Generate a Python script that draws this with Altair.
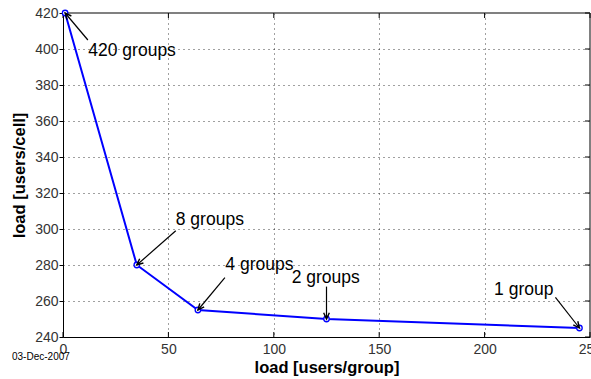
import math
import altair as alt
import pandas as pd

# Measured load per cell vs. load per group
groups = ["420 groups", "8 groups", "4 groups", "2 groups", "1 group"]
users_per_group = [1, 35, 64, 125, 245]
users_per_cell = [420, 280, 255, 250, 245]

# Annotation text anchors (arrow tails) in data units
label_x = [11.8, 53.5, 76.8, 125, 233.6]
label_y = [405, 299, 273, 268, 262]
text_x = [12, 53.5, 77, 108.5, 204.5]
text_y = [399, 305, 280, 273, 266]

x_ticks = [0, 50, 100, 150, 200, 250]
y_ticks = [240, 260, 280, 300, 320, 340, 360, 380, 400, 420]

W, H = 527, 324
X_DOM, Y_DOM = [0, 250], [240, 420]
FONT = "Liberation Sans"

sx = W / (X_DOM[1] - X_DOM[0])
sy = H / (Y_DOM[1] - Y_DOM[0])

# Arrowhead rotation from the screen direction tail -> head
angles = []
for xt, yt, xh, yh in zip(label_x, label_y, users_per_group, users_per_cell):
    dx = (xh - xt) * sx
    dy = -(yh - yt) * sy
    angles.append(math.degrees(math.atan2(dx, -dy)) % 360)

pts = pd.DataFrame({"x": users_per_group, "y": users_per_cell})
ann = pd.DataFrame({
    "label": groups, "tx": label_x, "ty": label_y,
    "hx": users_per_group, "hy": users_per_cell,
    "lx": text_x, "ly": text_y, "angle": angles,
})

xs = alt.Scale(domain=X_DOM, nice=False, zero=False)
ys = alt.Scale(domain=Y_DOM, nice=False, zero=False)

grid_style = dict(grid=True, gridDash=[1, 4], gridColor="#000000", gridOpacity=0.75,
                  domainColor="#000000", labelFontSize=14, labelColor="#333333",
                  titleFontSize=16.5, titleFontWeight="bold", titleColor="#000000",
                  labelFont=FONT, titleFont=FONT, labelFlush=False,
                  labelOverlap=False)

AX = alt.Axis(values=x_ticks, title="load [users/group]",
              tickSize=0, labelPadding=5, titlePadding=3, **grid_style)
AY = alt.Axis(values=y_ticks, title="load [users/cell]",
              tickSize=4, tickColor="#000000", labelPadding=1, titlePadding=7,
              **grid_style)


def qx(field):
    return alt.X(field, type="quantitative", scale=xs, axis=AX)


def qy(field):
    return alt.Y(field, type="quantitative", scale=ys, axis=AY)


base = alt.Chart(pts)

line = base.mark_line(color="#0000ff", strokeWidth=2).encode(x=qx("x"), y=qy("y"))

markers = base.mark_point(shape="circle", size=30, filled=True, fill="white",
                          stroke="#0000ff", strokeWidth=1.3, opacity=1).encode(
    x=qx("x"), y=qy("y"))

a = alt.Chart(ann)
shafts = a.mark_rule(color="black", strokeWidth=1.2).encode(
    x=qx("tx"), y=qy("ty"), x2="hx:Q", y2="hy:Q")

heads = a.mark_point(shape="M-0.45,1 L0,0 L0.45,1", size=160, filled=False,
                     stroke="black", strokeWidth=1.4, opacity=1).encode(
    x=qx("hx"), y=qy("hy"), angle=alt.Angle("angle:Q", scale=None))

labels = a.mark_text(align="left", baseline="middle", fontSize=17.5, font=FONT,
                     color="black").encode(
    x=qx("lx"), y=qy("ly"), text="label:N")

# Inside ticks along the bottom, top and right edges
tx_df = pd.DataFrame({"v": x_ticks})
ty_df = pd.DataFrame({"v": y_ticks})
bottom_ticks = alt.Chart(tx_df).mark_rule(color="black").encode(
    x=qx("v"), y=alt.value(H - 5), y2=alt.value(H))
top_ticks = alt.Chart(tx_df).mark_rule(color="black").encode(
    x=qx("v"), y=alt.value(0), y2=alt.value(5))
right_ticks = alt.Chart(ty_df).mark_rule(color="black").encode(
    y=qy("v"), x=alt.value(W - 5), x2=alt.value(W))

top_border = alt.Chart(tx_df).mark_rule(color="#808080", strokeWidth=1.5).encode(
    x=alt.value(0), x2=alt.value(W), y=alt.value(0))
right_border = alt.Chart(tx_df).mark_rule(color="#808080", strokeWidth=1.5).encode(
    x=alt.value(W), y=alt.value(0), y2=alt.value(H))

date = alt.Chart(pd.DataFrame({"t": ["03-Dec-2007"]})).mark_text(
    fontSize=10, font=FONT, align="left", baseline="middle", color="black").encode(
    x=alt.value(-51), y=alt.value(H + 20), text="t:N")

chart = alt.layer(
    line, top_border, right_border, bottom_ticks, top_ticks, right_ticks,
    markers, shafts, heads, labels, date,
).properties(
    width=W, height=H,
    autosize=alt.AutoSizeParams(type="none"),
    padding={"left": 63, "top": 13, "right": 1, "bottom": 42},
).configure_view(stroke=None).configure(background="white")

chart.save("out.html", embed_options={"renderer": "svg", "actions": False})
